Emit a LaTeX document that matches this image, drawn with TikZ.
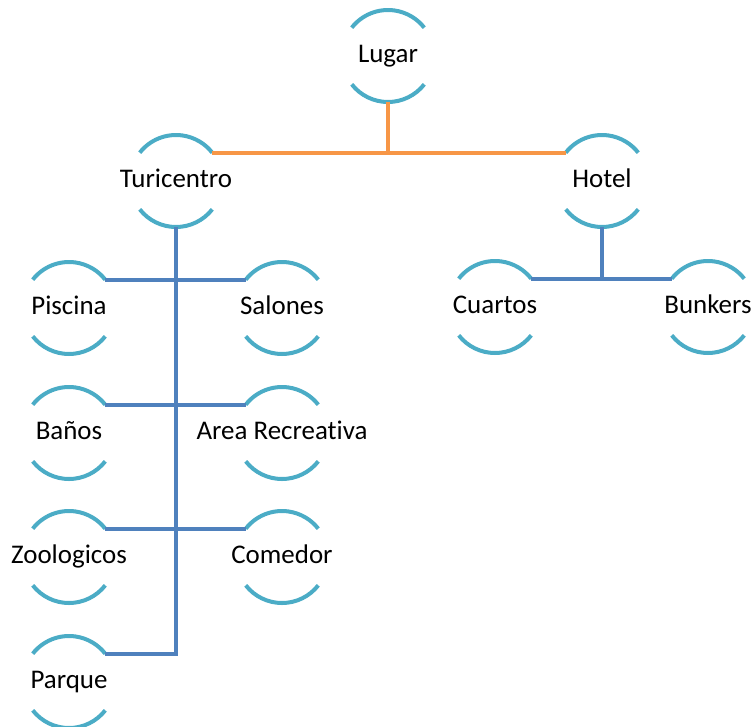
\documentclass[tikz,border=0pt]{standalone}
\usepackage{fontspec}
\setmainfont{Carlito}[RawFeature={-liga;-clig;-calt;-dlig}]
\definecolor{arccol}{HTML}{4BACC6}
\definecolor{orgcol}{HTML}{F79646}
\definecolor{blucol}{HTML}{4F81BD}
\begin{document}
\begin{tikzpicture}[
        x=0.75pt,y=-0.75pt,
        nsty/.style={
            inner sep=0pt,
            text height=13.5pt,text depth=3.5pt,
            font=\fontsize{20.2}{24}\selectfont,
        },
        asty/.style={draw=arccol,line width=3pt},
        lsty0/.style={draw=orgcol,line width=3pt},
        lsty1/.style={draw=blucol,line width=3pt},
    ]
    \useasboundingbox (0,0) rectangle (753,726);

    \foreach \n/\ox/\oy/\t in {lugar/388/56/Lugar,turi/176/181/Turicentro,hotel/602/181/Hotel,
        piscina/69/308/Piscina,salones/282/308/Salones,banos/69/433/Baños,area/282/433/Area Recreat\kern0pt iva,
        zoo/69/557/Zoologicos,comedor/282/557/Comedor,parque/69/682/Parque,
        cuartos/495/307/Cuartos,bunkers/708/307/Bunkers}{
        \node[nsty] at (\ox,\oy) (\n) {\t};
        \draw[asty] (\n.center) ++(142:34.5pt) coordinate (\n-tl)
            arc[start angle=142,end angle=38,radius=34.5pt] coordinate (\n-tr);
        \draw[asty] (\n.center) ++(218:34.5pt)
            arc[start angle=218,end angle=270,radius=34.5pt] coordinate (\n-b)
            arc[start angle=270,end angle=322,radius=34.5pt];
    }

    \draw[lsty0] (lugar-b) -- (lugar-b |- turi-tr);
    \draw[lsty0] (turi-tr) -- (hotel-tl);

    \draw[lsty1] (turi-b) |- (parque-tr);
    \draw[lsty1] (piscina-tr) -- (salones-tl);
    \draw[lsty1] (banos-tr) -- (area-tl);
    \draw[lsty1] (zoo-tr) -- (comedor-tl);
    \draw[lsty1] (hotel-b) -- (hotel-b |- cuartos-tr);
    \draw[lsty1] (cuartos-tr) -- (bunkers-tl);

\end{tikzpicture}
\end{document}
